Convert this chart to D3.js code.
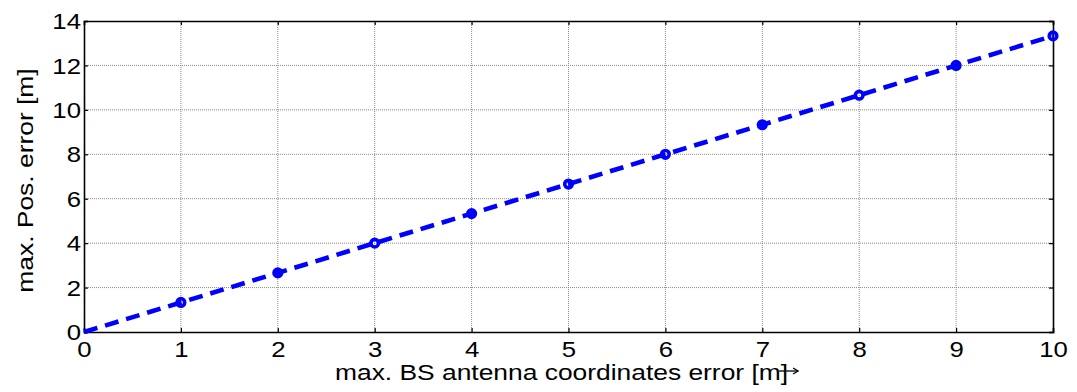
<!DOCTYPE html>
<html><head><meta charset="utf-8">
<script src="https://cdn.jsdelivr.net/npm/d3@7"></script>
<style>body{margin:0;background:#fff}svg{display:block}text{font-family:"Liberation Sans",Arial,sans-serif;fill:#000}</style>
</head><body><svg id="c" width="1077" height="392"></svg>
<script>
const xValues = [0,1,2,3,4,5,6,7,8,9,10];
const yValues = [0,1.33,2.66,4.0,5.33,6.66,8.0,9.33,10.66,12.0,13.33];
const xTicks = [0,1,2,3,4,5,6,7,8,9,10];
const yTicks = [0,2,4,6,8,10,12,14];
const xLabel = "max. BS antenna coordinates error [m]";
const yLabel = "max. Pos. error [m]";

const FS = 22, STRETCH = 1.17, LSTRETCH = 1.2;
const svg = d3.select("#c");
const L=84, R=1053, T=21, B=332;
const x = d3.scaleLinear().domain([0,10]).range([L,R]);
const y = d3.scaleLinear().domain([0,14]).range([B,T]);

function stretch(sel){
  sel.each(function(){
    const w = this.getComputedTextLength();
    if (w>0) d3.select(this).attr("textLength", w*STRETCH).attr("lengthAdjust","spacingAndGlyphs");
  });
}

// grid
const g = svg.append("g");
g.selectAll(".vx").data(xTicks.slice(1,-1)).join("line")
 .attr("x1",d=>x(d)).attr("x2",d=>x(d)).attr("y1",T).attr("y2",B)
 .attr("stroke","#8a8a8a").attr("stroke-width",1).attr("stroke-dasharray","1,1");
g.selectAll(".hy").data(yTicks.slice(1,-1)).join("line")
 .attr("y1",d=>y(d)).attr("y2",d=>y(d)).attr("x1",L).attr("x2",R)
 .attr("stroke","#8a8a8a").attr("stroke-width",1).attr("stroke-dasharray","1,1");

// axes with inward ticks
const ax = svg.append("g").attr("transform",`translate(0,${B})`)
 .call(d3.axisBottom(x).tickValues(xTicks).tickSize(-4).tickPadding(0).tickFormat(d3.format("d")));
const axT = svg.append("g").attr("transform",`translate(0,${T})`)
 .call(d3.axisTop(x).tickValues(xTicks).tickSize(-4).tickFormat(""));
const ay = svg.append("g").attr("transform",`translate(${L},0)`)
 .call(d3.axisLeft(y).tickValues(yTicks).tickSize(-4).tickPadding(0).tickFormat(d3.format("d")));
const ayR = svg.append("g").attr("transform",`translate(${R},0)`)
 .call(d3.axisRight(y).tickValues(yTicks).tickSize(-4).tickFormat(""));
[ax,axT,ay,ayR].forEach(a=>{
  a.select(".domain").attr("stroke","#000").attr("stroke-width",1.6);
  a.selectAll(".tick line").attr("stroke","#000").attr("stroke-width",1.2);
  a.selectAll("text").attr("font-size",FS).attr("fill","#000").attr("font-family","Liberation Sans, Arial, sans-serif");
});
ax.selectAll("text").attr("y",25).attr("dy",null);
ay.selectAll("text").attr("x",-3).attr("dy","0.35em");
stretch(ax.selectAll("text")); stretch(ay.selectAll("text"));

// line
const pts = xValues.map((d,i)=>[d,yValues[i]]);
svg.append("path").datum(pts)
 .attr("d",d3.line().x(d=>x(d[0])).y(d=>y(d[1])))
 .attr("fill","none").attr("stroke","#0000ff").attr("stroke-width",4.6)
 .attr("stroke-dasharray","14,8");
svg.selectAll(".m").data(pts.filter(d=>d[0]>0)).join("circle")
 .attr("cx",d=>x(d[0])).attr("cy",d=>y(d[1])).attr("r",3.8)
 .attr("fill","none").attr("stroke","#0000ff").attr("stroke-width",3.6);

// x label (horizontally stretched like the reference)
const xlg = svg.append("g").attr("transform",`translate(335,380) scale(${LSTRETCH},1)`);
const xl = xlg.append("text").attr("x",0).attr("y",0).attr("font-size",FS).text(xLabel);
const xlEnd = 335 + xl.node().getComputedTextLength()*LSTRETCH;
// small arrow overlapping the closing bracket
const ay0 = 371, ax0 = xlEnd - 9, ax1 = xlEnd + 10;
svg.append("path").attr("d",`M${ax0},${ay0}H${ax1}`).attr("stroke","#000").attr("stroke-width",1.3);
svg.append("path").attr("d",`M${ax1-5},${ay0-3}L${ax1},${ay0}L${ax1-5},${ay0+3}`)
 .attr("fill","none").attr("stroke","#000").attr("stroke-width",1.3);

// y label
const ylg = svg.append("g").attr("transform",`translate(33,${(T+B)/2+4}) rotate(-90) scale(${LSTRETCH},1)`);
ylg.append("text").attr("text-anchor","middle").attr("font-size",FS).text(yLabel);
</script></body></html>
